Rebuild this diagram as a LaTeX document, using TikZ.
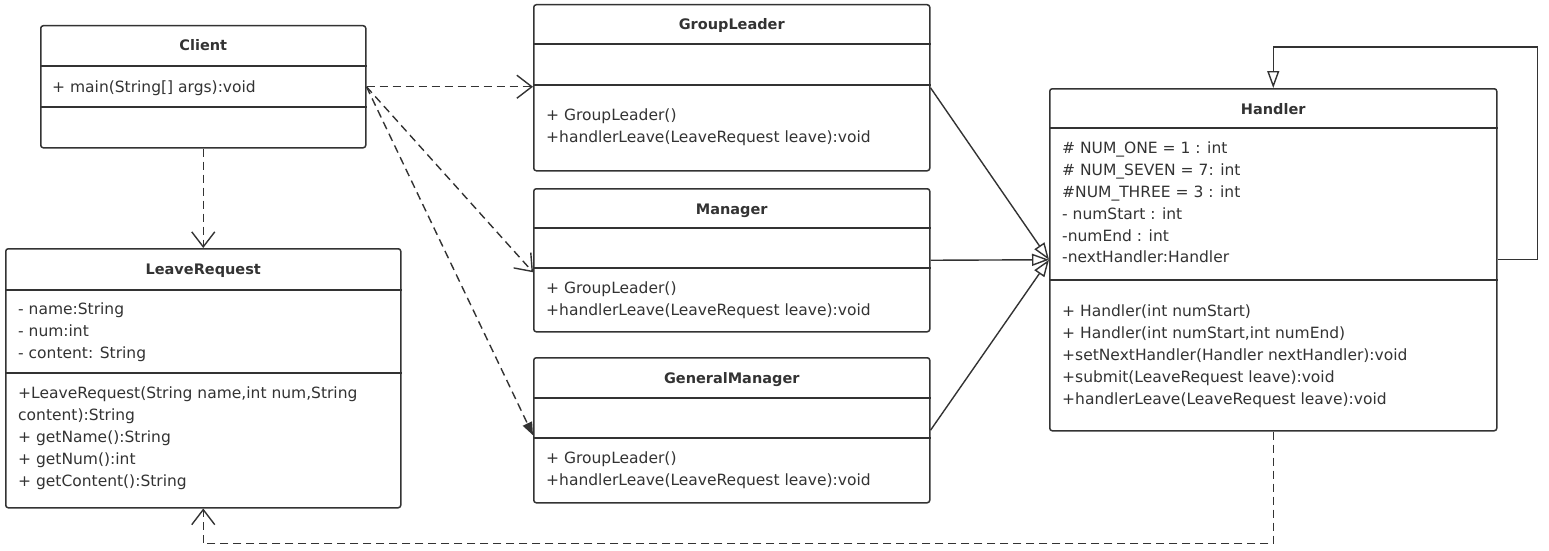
\documentclass[tikz,border=0pt]{standalone}
\usepackage{fontspec}
\setmainfont{DejaVu Sans}
\usetikzlibrary{arrows.meta,calc}
\definecolor{umlink}{HTML}{333333}
\tikzset{
  every picture/.style={font=\fontsize{15.5}{21.8}\selectfont,text=umlink},
  classbox/.style={draw=umlink,fill=white,line width=1.5pt,rounded corners=2.5pt,
    anchor=north west,inner sep=0pt},
  classname/.style={font=\fontsize{14.5}{17}\selectfont\bfseries,inner sep=0pt,anchor=base},
  members/.style={anchor=north west,align=left,inner sep=0pt},
  divider/.style={draw=umlink,line width=1.5pt},
  uses/.style={draw=umlink,line width=1.4pt,dash pattern=on 8pt off 5pt,
    -{Straight Barb[length=15pt,width=23pt]}},
  usesdark/.style={draw=umlink,line width=1.4pt,dash pattern=on 8pt off 5pt,
    -{Triangle[length=13pt,width=10pt]}},
  extends/.style={draw=umlink,line width=1.4pt,
    -{Triangle[open,length=17pt,width=12pt,fill=white]}},
}
\begin{document}
\begin{tikzpicture}[x=1pt,y=-1pt]
  \path[use as bounding box] (0,0) rectangle (1549,551);
  % class boxes
  \node[classbox,minimum width=325pt,minimum height=122pt] (client) at (40,25) {};
  \node[classbox,minimum width=395pt,minimum height=259pt] (leave) at (5,248) {};
  \node[classbox,minimum width=396pt,minimum height=166pt] (gl) at (533,4) {};
  \node[classbox,minimum width=396pt,minimum height=143pt] (mgr) at (533,188) {};
  \node[classbox,minimum width=396pt,minimum height=145pt] (gm) at (533,357) {};
  \node[classbox,minimum width=447pt,minimum height=342pt] (handler) at (1049,88) {};
  \foreach \c/\d in {client/41,client/82,leave/42,leave/125,gl/40,gl/81,
      mgr/40,mgr/80,gm/41,gm/81,handler/40,handler/192}
    \draw[divider] ([yshift=-\d pt]\c.north west) -- ([yshift=-\d pt]\c.north east);
  \foreach \c/\t in {client/Client,leave/LeaveRequest,gl/GroupLeader,mgr/Manager,
      gm/GeneralManager,handler/Handler}
    \node[classname] (\c-name) at ([yshift=-26pt]\c.north) {\t};

  % members
  \node[members] (client-ops) at (52,81) {+ main(String[] args):void};
  \node[members] (leave-attr) at (18,303) {- name:String\\- num:int\\- content: String};
  \node[members] (leave-ops) at (18,387) {+LeaveRequest(String name,int num,String\\
    content):String\\+ getName():String\\+ getNum():int\\+ getContent():String};
  \node[members] (gl-ops) at (546,109) {+ GroupLeader()\\+handlerLeave(LeaveRequest leave):void};
  \node[members] (mgr-ops) at (546,282) {+ GroupLeader()\\+handlerLeave(LeaveRequest leave):void};
  \node[members] (gm-ops) at (546,452) {+ GroupLeader()\\+handlerLeave(LeaveRequest leave):void};
  \node[members] (handler-attr) at (1062,142) {\# NUM\_ONE = 1 : int\\\# NUM\_SEVEN = 7: int\\
    \#NUM\_THREE = 3 : int\\- numStart : int\\-numEnd : int\\-nextHandler:Handler};
  \node[members] (handler-ops) at (1062,305) {+ Handler(int numStart)\\
    + Handler(int numStart,int numEnd)\\+setNextHandler(Handler nextHandler):void\\
    +submit(LeaveRequest leave):void\\+handlerLeave(LeaveRequest leave):void};

  % dependencies
  \draw[uses] (client) -- (leave);
  \draw[uses] (client.east) -- (gl.west |- client.east);
  \draw[uses] (client.east) -- ([yshift=-12pt]mgr.west);
  \draw[usesdark] (client.east) -- ([yshift=-5pt]gm.west);
  \draw[uses] (handler.south) -- ++(0,112) -| (leave.south);

  % generalizations
  \draw[extends] (gl.east) -- (handler.west);
  \draw[extends] (mgr.east) -- (handler.west);
  \draw[extends] (gm.east) -- (handler.west);
  \draw[extends] (handler.east) -- ++(40,0) |- ([yshift=41pt]handler.north) -- (handler.north);
\end{tikzpicture}
\end{document}
